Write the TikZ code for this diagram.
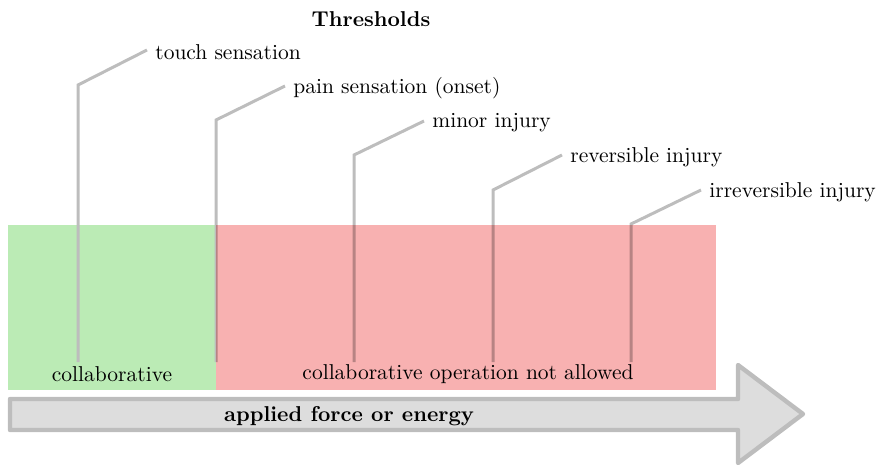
\documentclass[tikz,border=0pt]{standalone}
\usepackage{tikz}
\definecolor{okgreen}{RGB}{187,235,181}
\definecolor{nored}{RGB}{248,177,177}
\definecolor{leadgray}{RGB}{189,189,189}
\definecolor{arrowfill}{RGB}{221,221,221}
\definecolor{arrowdraw}{RGB}{189,189,189}
\newcommand{\bigtxt}{\fontsize{10.75}{13}\selectfont}
\tikzset{
  lead/.style={draw=leadgray, line width=1.5pt},
  lbl/.style={anchor=west, inner sep=0pt, font=\bigtxt},
  zone/.style={inner sep=0pt, font=\bigtxt},
}
\begin{document}
\begin{tikzpicture}[x=0.5pt,y=-0.5pt]
\useasboundingbox (0,0) rectangle (879,467);
% title
\node[font=\bigtxt\bfseries] (title) at (371,19) {Thresholds};
% green zone
\fill[okgreen] (8,225) rectangle (216,390);
% labels
\node[lbl] (t1) at (155,52) {touch sensation};
\node[lbl] (t2) at (293,88) {pain sensation (onset)};
\node[lbl] (t3) at (432,123) {minor injury};
\node[lbl] (t4) at (570,157) {reversible injury};
\node[lbl] (t5) at (709,192) {irreversible injury};
% leader coordinates
\coordinate (b1) at (78,362);  \coordinate (k1) at (78,85);
\coordinate (b2) at (216,362); \coordinate (k2) at (216,120);
\coordinate (b3) at (354,362); \coordinate (k3) at (354,155);
\coordinate (b4) at (493,362); \coordinate (k4) at (493,190);
\coordinate (b5) at (631,362); \coordinate (k5) at (631,224);
\draw[lead] (b1) -- (k1) -- ([xshift=-4pt,yshift=1pt]t1.west);
\draw[lead] (b2) -- (k2) -- ([xshift=-4pt,yshift=1pt]t2.west);
\draw[lead] (b3) -- (k3) -- ([xshift=-4pt,yshift=1pt]t3.west);
\draw[lead] (b4) -- (k4) -- ([xshift=-4pt,yshift=1pt]t4.west);
\draw[lead] (b5) -- (k5) -- ([xshift=-4pt,yshift=1pt]t5.west);
% red zone (multiply over leaders)
\begin{scope}[blend mode=multiply]
\fill[nored] (216,225) rectangle (716,390);
\end{scope}
\node[zone] (z1) at (112,374) {collaborative};
\node[zone] (z2) at (468,374) {collaborative operation not allowed};
% arrow
\draw[fill=arrowfill, draw=arrowdraw, line width=2.2pt, line join=round]
  (10,399) -- (738,399) -- (738,365) -- (803,414) -- (738,463) -- (738,430) -- (10,430) -- cycle;
\node[font=\bigtxt\bfseries] (ax) at (349,416) {applied force or energy};
\end{tikzpicture}
\end{document}
